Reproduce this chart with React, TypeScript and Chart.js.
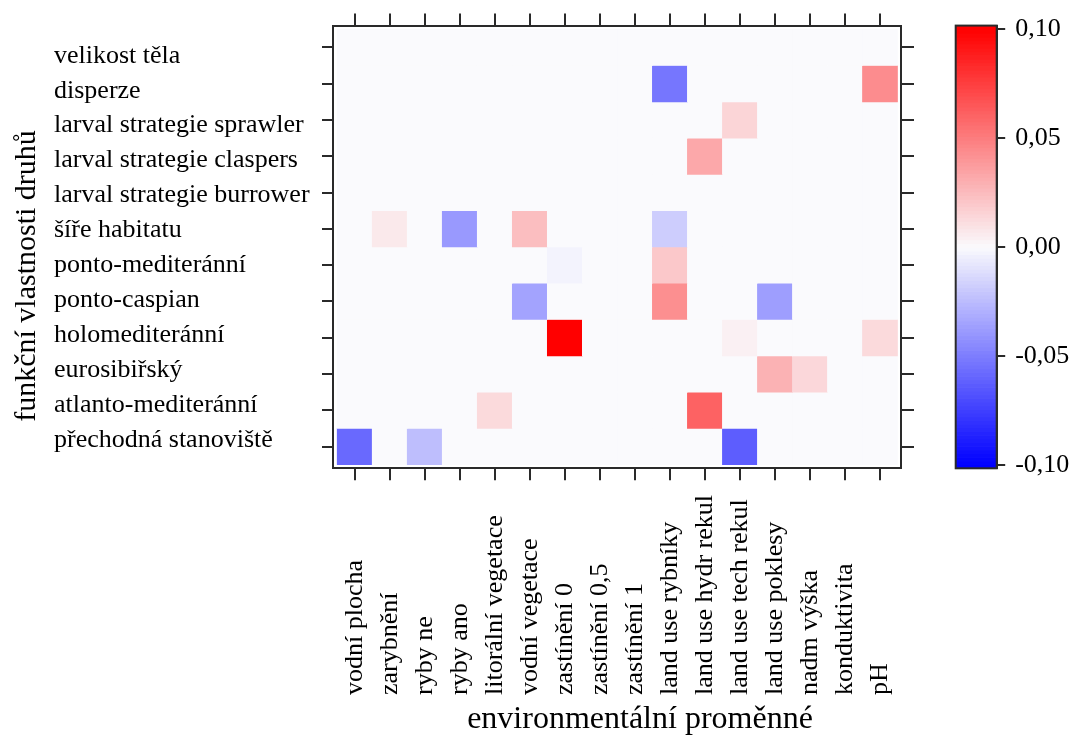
import React, { useEffect, useRef } from 'react';
import { Chart, registerables } from 'chart.js';

Chart.register(...registerables);

// x categories (environmental variables)
const envVars = [
  'vodní plocha',
  'zarybnění',
  'ryby ne',
  'ryby ano',
  'litorální vegetace',
  'vodní vegetace',
  'zastínění 0',
  'zastínění 0,5',
  'zastínění 1',
  'land use rybníky',
  'land use hydr rekul',
  'land use tech rekul',
  'land use poklesy',
  'nadm výška',
  'konduktivita',
  'pH',
];

// y categories (species traits), top to bottom
const traits = [
  'velikost těla',
  'disperze',
  'larval strategie sprawler',
  'larval strategie claspers',
  'larval strategie burrower',
  'šíře habitatu',
  'ponto-mediteránní',
  'ponto-caspian',
  'holomediteránní',
  'eurosibiřský',
  'atlanto-mediteránní',
  'přechodná stanoviště',
];

// one row of values per trait, one column per environmental variable
const rowVelikost = [0, 0, 0, 0, 0, 0, 0, 0, 0, 0, 0, 0, 0, 0, 0, 0];
const rowDisperze = [0, 0, 0, 0, 0, 0, 0, 0, 0, -0.053, 0, 0, 0, 0, 0, 0.044];
const rowSprawler = [0, 0, 0, 0, 0, 0, 0, 0, 0, 0, 0, 0.015, 0, 0, 0, 0];
const rowClaspers = [0, 0, 0, 0, 0, 0, 0, 0, 0, 0, 0.033, 0, 0, 0, 0, 0];
const rowBurrower = [0, 0, 0, 0, 0, 0, 0, 0, 0, 0, 0, 0, 0, 0, 0, 0];
const rowSire = [0, 0.007, 0, -0.039, 0, 0.024, 0, 0, 0, -0.018, 0, 0, 0, 0, 0, 0];
const rowPontoMed = [0, 0, 0, 0, 0, 0, -0.003, 0, 0, 0.02, 0, 0, 0, 0, 0, 0];
const rowPontoCasp = [0, 0, 0, 0, 0, -0.035, 0, 0, 0, 0.043, 0, 0, -0.037, 0, 0, 0];
const rowHolomed = [0, 0, 0, 0, 0, 0, 0.1, 0, 0, 0, 0, 0.004, 0, 0, 0, 0.013];
const rowEurosib = [0, 0, 0, 0, 0, 0, 0, 0, 0, 0, 0, 0, 0.029, 0.014, 0, 0];
const rowAtlanto = [0, 0, 0, 0, 0.013, 0, 0, 0, 0, 0, 0.061, 0, 0, 0, 0, 0];
const rowPrechodna = [-0.058, 0, -0.024, 0, 0, 0, 0, 0, 0, 0, 0, -0.063, 0, 0, 0, 0];

const valueRows = [
  rowVelikost,
  rowDisperze,
  rowSprawler,
  rowClaspers,
  rowBurrower,
  rowSire,
  rowPontoMed,
  rowPontoCasp,
  rowHolomed,
  rowEurosib,
  rowAtlanto,
  rowPrechodna,
];

// colour key
const colorTicks = [-0.1, -0.05, 0, 0.05, 0.1];
const colorLimit = 0.1015;

const FONT = '"Liberation Serif", "Times New Roman", Times, serif';
const LINE = '#2a2a2a';
const LW = 2;

function valueColor(v: number): string {
  const mid = [250, 250, 253];
  const t = Math.min(1, Math.abs(v) / 0.1);
  const end = v >= 0 ? [255, 0, 0] : [0, 0, 255];
  const c = mid.map((m, i) => Math.round(m + (end[i] - m) * t));
  return `rgb(${c[0]},${c[1]},${c[2]})`;
}

export default function App() {
  const canvasRef = useRef<HTMLCanvasElement | null>(null);

  useEffect(() => {
    const canvas = canvasRef.current;
    if (!canvas) return;

    const datasets = traits.map((t, r) => ({
      label: t,
      data: envVars.map((_, c) => ({ x: c, y: [r - 0.5, r + 0.5] })),
      backgroundColor: valueRows[r].map(valueColor),
      borderWidth: 0,
      grouped: false,
      barPercentage: 1,
      categoryPercentage: 1,
      xAxisID: 'x',
      yAxisID: 'y2',
    }));

    const decor = {
      id: 'decor',
      afterDraw(chart: any) {
        const { ctx, chartArea, scales } = chart;
        const xs = scales.x;
        const yd = scales.y2;
        const cb = scales.cb;
        ctx.save();

        // left tick marks at the cell centres
        ctx.strokeStyle = LINE;
        ctx.lineWidth = LW;
        traits.forEach((_, i) => {
          const y = Math.round(yd.getPixelForValue(i));
          ctx.beginPath();
          ctx.moveTo(chartArea.left - 11, y);
          ctx.lineTo(chartArea.left, y);
          ctx.stroke();
        });

        // rotated x labels, bottom aligned
        ctx.fillStyle = '#000';
        ctx.font = `26px ${FONT}`;
        ctx.textAlign = 'left';
        ctx.textBaseline = 'middle';
        envVars.forEach((lab, i) => {
          const x = xs.getPixelForValue(i);
          ctx.save();
          ctx.translate(x, chartArea.bottom + 226.7);
          ctx.rotate(-Math.PI / 2);
          ctx.fillText(lab, 0, 0);
          ctx.restore();
        });

        // axis titles
        ctx.font = `32px ${FONT}`;
        ctx.textAlign = 'center';
        ctx.textBaseline = 'alphabetic';
        ctx.fillText('environmentální proměnné', 640, 728);
        ctx.font = `30px ${FONT}`;
        ctx.save();
        ctx.translate(35, 276);
        ctx.rotate(-Math.PI / 2);
        ctx.fillText('funkční vlastnosti druhů', 0, 0);
        ctx.restore();

        // colour key
        const barRight = cb.left;
        const barW = 41;
        const barLeft = barRight - barW;
        const steps = 120;
        for (let k = 0; k < steps; k++) {
          const v0 = -colorLimit + (k * 2 * colorLimit) / steps;
          const v1 = -colorLimit + ((k + 1) * 2 * colorLimit) / steps;
          const y0 = cb.getPixelForValue(v0);
          const y1 = cb.getPixelForValue(v1);
          ctx.fillStyle = valueColor((v0 + v1) / 2);
          ctx.fillRect(barLeft, y1, barW, y0 - y1 + 0.7);
        }
        ctx.strokeStyle = LINE;
        ctx.lineWidth = LW;
        ctx.strokeRect(barLeft, cb.top, barW, cb.bottom - cb.top);
        ctx.restore();
      },
    };

    const tickMarks = (len: number) => ({
      drawOnChartArea: false,
      drawTicks: true,
      tickLength: len,
      color: LINE,
      lineWidth: LW,
      offset: false,
    });
    const border = { display: true, color: LINE, width: LW };

    const chart = new Chart(canvas, {
      type: 'bar',
      data: { datasets: datasets as any },
      options: {
        responsive: false,
        animation: false,
        events: [],
        layout: { padding: { left: 54, right: 0, top: 0, bottom: 0 } },
        plugins: {
          legend: { display: false },
          tooltip: { enabled: false },
        },
        scales: {
          x: {
            type: 'linear',
            position: 'bottom',
            offset: false,
            min: -0.62,
            max: 15.6,
            afterBuildTicks: (s: any) => {
              s.ticks = envVars.map((_, i) => ({ value: i }));
            },
            ticks: { display: false },
            grid: tickMarks(12),
            border,
            afterFit: (s: any) => {
              s.height = 271.7;
            },
          },
          x2: {
            type: 'linear',
            position: 'top',
            offset: false,
            min: -0.62,
            max: 15.6,
            afterBuildTicks: (s: any) => {
              s.ticks = envVars.map((_, i) => ({ value: i }));
            },
            ticks: { display: false },
            grid: tickMarks(12),
            border,
            afterFit: (s: any) => {
              s.height = 25;
            },
          },
          y: {
            type: 'linear',
            position: 'left',
            offset: false,
            reverse: true,
            min: -0.863,
            max: 11.803,
            afterBuildTicks: (s: any) => {
              s.ticks = traits.map((_, i) => ({ value: i }));
            },
            ticks: {
              autoSkip: false,
              crossAlign: 'far',
              color: '#000',
              font: { family: FONT, size: 26 },
              callback: (v: any) => traits[Number(v)],
            },
            grid: { drawOnChartArea: false, drawTicks: false },
            border,
            afterFit: (s: any) => {
              s.width = 279;
            },
          },
          y2: {
            type: 'linear',
            position: 'right',
            offset: false,
            reverse: true,
            min: -0.6,
            max: 11.6,
            afterBuildTicks: (s: any) => {
              s.ticks = traits.map((_, i) => ({ value: i }));
            },
            ticks: { display: false },
            grid: tickMarks(13),
            border,
            afterFit: (s: any) => {
              s.width = 95.7;
            },
          },
          cb: {
            type: 'linear',
            position: 'right',
            weight: 1,
            offset: false,
            min: -colorLimit,
            max: colorLimit,
            afterBuildTicks: (s: any) => {
              s.ticks = colorTicks.map((v) => ({ value: v }));
            },
            ticks: {
              autoSkip: false,
              color: '#000',
              padding: 10,
              font: { family: FONT, size: 26 },
              callback: (v: any) => Number(v).toFixed(2).replace('.', ','),
            },
            grid: tickMarks(8.5),
            border,
            afterFit: (s: any) => {
              s.width = 80.3;
            },
          },
        } as any,
      },
      plugins: [decor],
    });

    return () => chart.destroy();
  }, []);

  return (
    <div style={{ position: 'absolute', left: 0, top: 0, width: 1077, height: 740 }}>
      <canvas
        ref={canvasRef}
        width={1077}
        height={740}
        style={{ display: 'block', width: 1077, height: 740 }}
      />
    </div>
  );
}
